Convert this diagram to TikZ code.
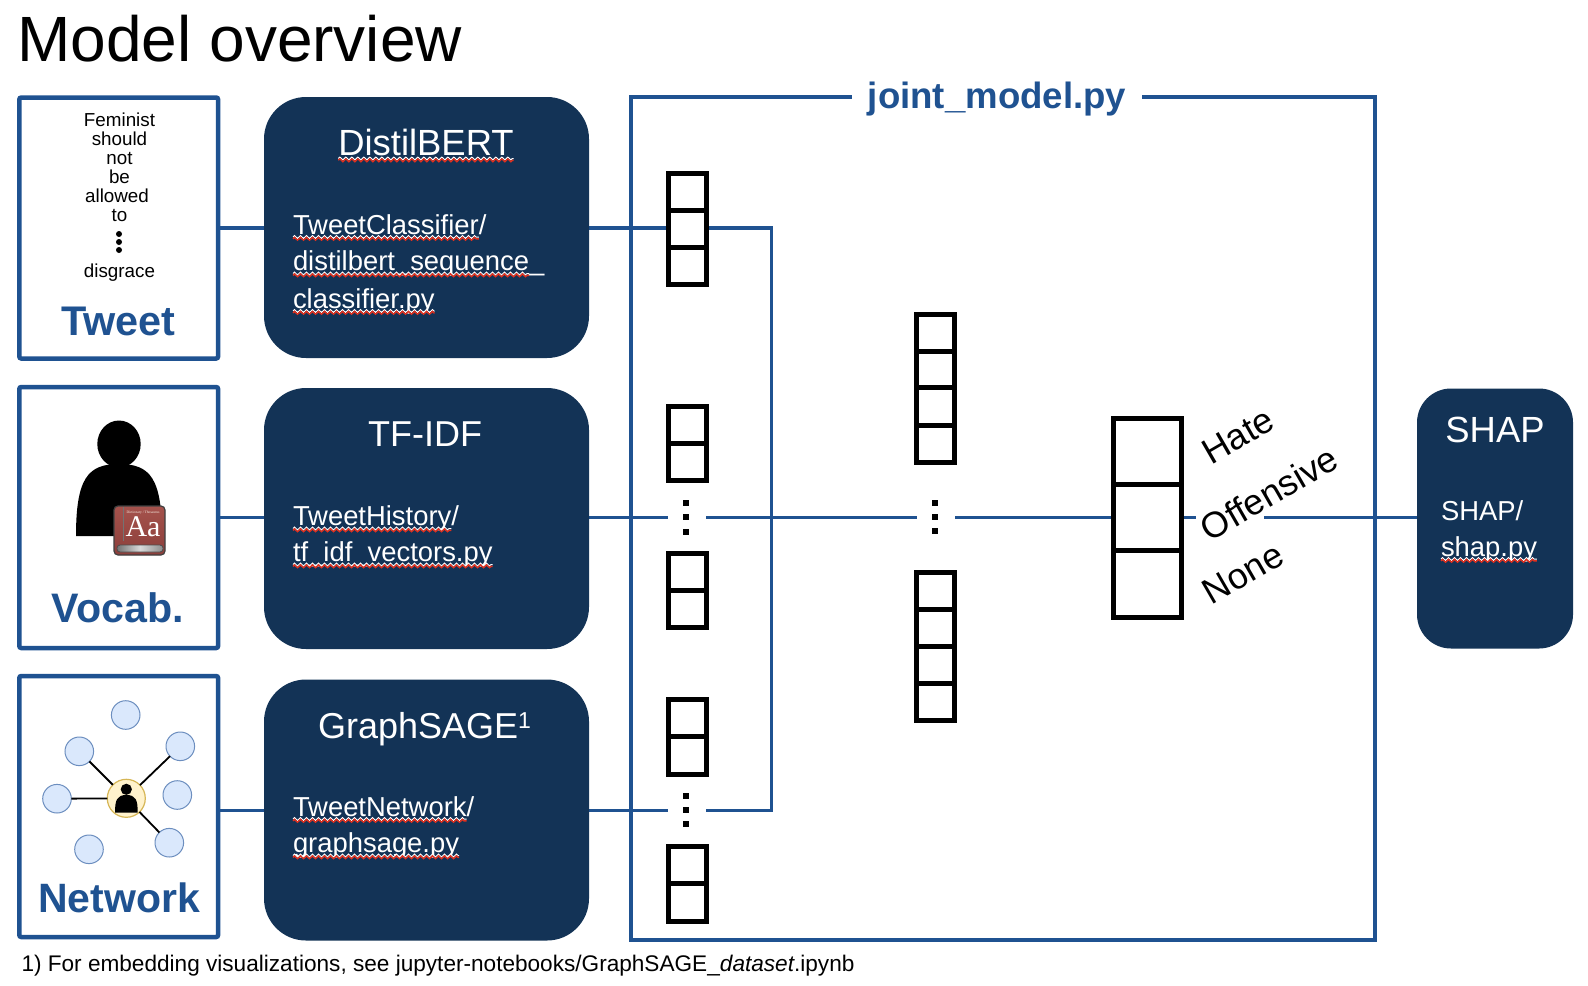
\documentclass[tikz,border=0pt]{standalone}
\usepackage{fontspec}
\setmainfont{Liberation Sans}
\newfontfamily\bookserif{Liberation Serif}
\usetikzlibrary{backgrounds,decorations.pathmorphing}
\definecolor{frameblue}{HTML}{1F5291}
\definecolor{darkbox}{HTML}{133356}
\definecolor{wavered}{HTML}{E0301E}
\definecolor{leaffill}{HTML}{DAE8FC}
\definecolor{leafline}{HTML}{6C8EBF}
\definecolor{hubfill}{HTML}{FFF2CC}
\definecolor{hubline}{HTML}{D6B656}
\definecolor{booktop}{HTML}{A5524C}
\definecolor{bookbot}{HTML}{8C3F3B}
\newcommand\fpt[1]{\fontsize{#1}{#1}\selectfont}
\tikzset{
  srcbox/.style={draw=frameblue,line width=2.25pt,fill=white,rounded corners=1pt,minimum width=99.4pt,minimum height=130.5pt,inner sep=0,outer sep=0},
  darknode/.style={fill=darkbox,rounded corners=21pt,minimum width=162.5pt,minimum height=130.5pt,inner sep=0,outer sep=0},
  shapnode/.style={fill=darkbox,rounded corners=17pt,minimum width=78pt,minimum height=130pt,inner sep=0,outer sep=0},
  framenode/.style={draw=frameblue,line width=2.25pt,minimum width=372pt,minimum height=421.5pt,inner sep=0,outer sep=0},
  wire/.style={draw=frameblue,line width=1.6pt},
  cell/.style={draw=black,line width=2.5pt,fill=white,inner sep=0,outer sep=0},
  cellA/.style={cell,minimum width=19pt,minimum height=18.6pt},
  gapnode/.style={fill=white,inner sep=0,outer sep=0,minimum width=19pt,minimum height=5pt},
  vdot/.style={fill=black,inner sep=0,outer sep=0,minimum size=3pt},
  txt/.style={inner sep=0,outer sep=0,anchor=base west},
  ctr/.style={inner sep=0,outer sep=0,anchor=base},
  wh/.style={text=white},
  wavw/.style={draw=white,line width=.5pt,decorate,decoration={zigzag,amplitude=.7pt,segment length=3pt}},
  wavr/.style={draw=wavered,line width=.7pt,decorate,decoration={zigzag,amplitude=.7pt,segment length=3pt}},
  leaf/.style={circle,draw=leafline,fill=leaffill,line width=.5pt,inner sep=0,outer sep=0,minimum size=14.3pt},
  link/.style={draw=black,line width=.9pt},
  lab/.style={inner sep=0,outer sep=0,rotate=30,font=\fpt{18}},
}
\newcommand\wav[1]{%
  \draw[wavw] ([yshift=-1.5pt]#1.base west) -- ([yshift=-1.5pt]#1.base east);
  \draw[wavr] ([yshift=-2.4pt]#1.base west) -- ([yshift=-2.4pt]#1.base east);}
\begin{document}
\begin{tikzpicture}[x=0.5pt,y=-0.5pt]
\useasboundingbox (0,0) rectangle (1588,985);
% title
\node[txt,font=\fpt{32}] (title) at (17.5,61) {Model overview};
% source boxes
\node[srcbox] (tweet) at (118.7,228) {};
\node[srcbox] (vocab) at (118.7,517.5) {};
\node[srcbox] (network) at (118.7,806.5) {};
% dark boxes
\node[darknode] (d1) at (426.5,227.5) {};
\node[darknode] (d2) at (426.5,518.5) {};
\node[darknode] (d3) at (426.5,810) {};
\node[shapnode] (shap) at (1495,518.5) {};
% joint frame
\node[framenode] (joint) at (1003.2,518.7) {};
\node[ctr,font=\fpt{18.3}\bfseries,text=frameblue,fill=white,inner xsep=8pt,inner ysep=1pt] (jt) at (997,108.5) {joint\_model.py};
% tweet box content
\node[ctr,font=\fpt{9.4}] (t1) at (119.5,126) {Feminist};
\node[ctr,font=\fpt{9.4}] (t2) at (119.5,145) {should};
\node[ctr,font=\fpt{9.4}] (t3) at (119.5,164) {not};
\node[ctr,font=\fpt{9.4}] (t4) at (119.5,183) {be};
\node[ctr,font=\fpt{9.4}] (t5) at (117,202) {allowed};
\node[ctr,font=\fpt{9.4}] (t6) at (119.5,221) {to};
\fill (119,234) circle (1.5pt) (119,242) circle (1.5pt) (119,250) circle (1.5pt);
\node[ctr,font=\fpt{9.4}] (t7) at (119.5,277) {disgrace};
\node[ctr,font=\fpt{20.7}\bfseries,text=frameblue] (tl) at (118.5,335) {Tweet};
% vocab box content
\fill (119,444) ellipse (21.7 and 23.5);
\fill (76,536) .. controls (76,478) and (88,464) .. (119,464) .. controls (150,464) and (162,478) .. (162,536) -- cycle;
\draw[draw=black!75,line width=.6pt,top color=booktop,bottom color=bookbot,rounded corners=2pt] (114,506) rectangle (165,555);
\draw[draw=black!55,line width=.4pt] (123,507) -- (123,541);
\draw[draw=black!70,line width=.4pt,left color=black!55,right color=black!45,middle color=white!85!black,rounded corners=1.5pt] (117,545) rectangle (163,552);
\node[ctr,font=\bookserif\fpt{1.8},text=white!85!brown] (bk) at (143,513) {Dictionary / Thesaurus};
\node[ctr,font=\bookserif\fpt{15},text=white] (aa) at (143,536) {Aa};
\node[ctr,font=\fpt{20.6}\bfseries,text=frameblue] (vl) at (118,622) {Vocab.};
% network content
\node[leaf] (n1) at (125.7,715) {};
\node[leaf] (n2) at (79.3,751.3) {};
\node[leaf] (n3) at (180.3,746.3) {};
\node[leaf] (n4) at (57,798.7) {};
\node[leaf] (n5) at (177.3,795) {};
\node[leaf] (n6) at (89,849.3) {};
\node[leaf] (n7) at (169.3,842.7) {};
\node[circle,draw=hubline,line width=.6pt,fill=hubfill,minimum size=19pt,inner sep=0,outer sep=0] (hub) at (126.3,798.3) {};
\draw[link] (n2) -- (hub);
\draw[link] (n3) -- (hub);
\draw[link] (n4) -- (hub);
\draw[link] (n7) -- (hub);
\fill (126.3,789.3) circle (2.8pt);
\fill (115,812.7) .. controls (115,800) and (117,795) .. (126.3,795) .. controls (136,795) and (137.7,800) .. (137.7,812.7) -- cycle;
\node[ctr,font=\fpt{20.5}\bfseries,text=frameblue] (nl) at (119,912) {Network};
% dark text
\node[ctr,font=\fpt{18.2},wh] (dt1) at (426,155.5) {DistilBERT};
\wav{dt1}
\node[txt,font=\fpt{13.7},wh] (a1) at (293,234) {TweetClassifier};
\node[txt,font=\fpt{13.7},wh] (a1s) at (a1.base east) {/};
\wav{a1}
\node[txt,font=\fpt{13.7},wh] (a2) at (293,270.5) {distilbert\_sequence};
\node[txt,font=\fpt{13.7},wh] (a2s) at (a2.base east) {\_};
\wav{a2}
\node[txt,font=\fpt{13.7},wh] (a3) at (293,308) {classifier.py};
\wav{a3}
\node[ctr,font=\fpt{18},wh] (dt2) at (425,446.7) {TF-IDF};
\node[txt,font=\fpt{13.7},wh] (b1) at (293,525.5) {TweetHistory};
\node[txt,font=\fpt{13.7},wh] (b1s) at (b1.base east) {/};
\wav{b1}
\node[txt,font=\fpt{13.7},wh] (b2) at (293,561.5) {tf\_idf\_vectors.py};
\wav{b2}
\node[txt,font=\fpt{18},wh] (dt3) at (318,738) {GraphSAGE\raisebox{5pt}{\fpt{11.5}1}};
\node[txt,font=\fpt{13.7},wh] (c1) at (293,816) {TweetNetwork};
\node[txt,font=\fpt{13.7},wh] (c1s) at (c1.base east) {/};
\wav{c1}
\node[txt,font=\fpt{13.7},wh] (c2) at (293,852.5) {graphsage.py};
\wav{c2}
\node[ctr,font=\fpt{18.2},wh] (st) at (1495,442) {SHAP};
\node[txt,font=\fpt{13.7},wh] (s1) at (1441,520) {SHAP/};
\node[txt,font=\fpt{13.7},wh] (s2) at (1441,556) {shap.py};
\wav{s2}
% vectors
\foreach \nm/\yy in {va1/192.1,va2/229.2,va3/266.3,vb1/425,vb2/462,vc1/572,vc2/609,vd1/718.5,vd2/755.5,ve1/865,ve2/902.5}
  \node[cellA] (\nm) at (687.5,\yy) {};
\foreach \nm/\yy in {vf1/333,vf2/370,vf3/406.5,vf4/444,vg1/591,vg2/628,vg3/665,vg4/702}
  \node[cellA] (\nm) at (935,\yy) {};
\node[cell,minimum width=34pt,minimum height=33.3pt] (o1) at (1147,451.5) {};
\node[cell,minimum width=34pt,minimum height=33.3pt] (o2) at (1147,518) {};
\node[cell,minimum width=34pt,minimum height=33.3pt] (o3) at (1147,584) {};
% dot gaps
\node[gapnode] (gapb) at (687,517.3) {};
\node[gapnode] (gapc) at (687,810) {};
\node[gapnode] (gapf) at (935.5,517.3) {};
\foreach \px/\py in {685.7/503.3,685.7/517.3,685.7/531.7,685.7/795.7,685.7/809.7,685.7/823.7,934.7/502.7,934.7/516.7,934.7/530.7}
  \node[vdot] at (\px,\py) {};
% labels
\node[lab] (hate) at (1238,436) {Hate};
\node[lab] (off) at (1269,493) {Offensive};
\node[lab] (none) at (1243,573) {None};
% footnote
\node[txt,font=\fpt{11.3}] (fn) at (21.5,971) {1) For embedding visualizations, see jupyter-notebooks/GraphSAGE\_\textit{dataset}.ipynb};
% connectors
\coordinate (w1) at (0,228);
\coordinate (w2) at (0,517.3);
\coordinate (w3) at (0,810.5);
\coordinate (corner1) at (771.3,228);
\coordinate (corner2) at (771.3,810.5);
\coordinate (offL) at (1196,517.3);
\coordinate (offR) at (1264,517.3);
\begin{scope}[on background layer]
\fill[white] (0,0) rectangle (1588,985);
\draw[wire] (tweet.east |- w1) -- (d1.west |- w1);
\draw[wire] (vocab.east |- w2) -- (d2.west |- w2);
\draw[wire] (network.east |- w3) -- (d3.west |- w3);
\draw[wire] (d1.east |- w1) -- (va2.west |- w1);
\draw[wire] (va2.east |- w1) -- (corner1) -- (corner2) -- (gapc.east |- corner2);
\draw[wire] (d3.east |- w3) -- (gapc.west |- w3);
\draw[wire] (d2.east |- w2) -- (gapb.west |- w2);
\draw[wire] (gapb.east |- w2) -- (gapf.west |- w2);
\draw[wire] (gapf.east |- w2) -- (o2.west |- w2);
\draw[wire] (o2.east |- w2) -- (offL);
\draw[wire] (offR) -- (shap.west |- w2);
\end{scope}
\end{tikzpicture}
\end{document}
